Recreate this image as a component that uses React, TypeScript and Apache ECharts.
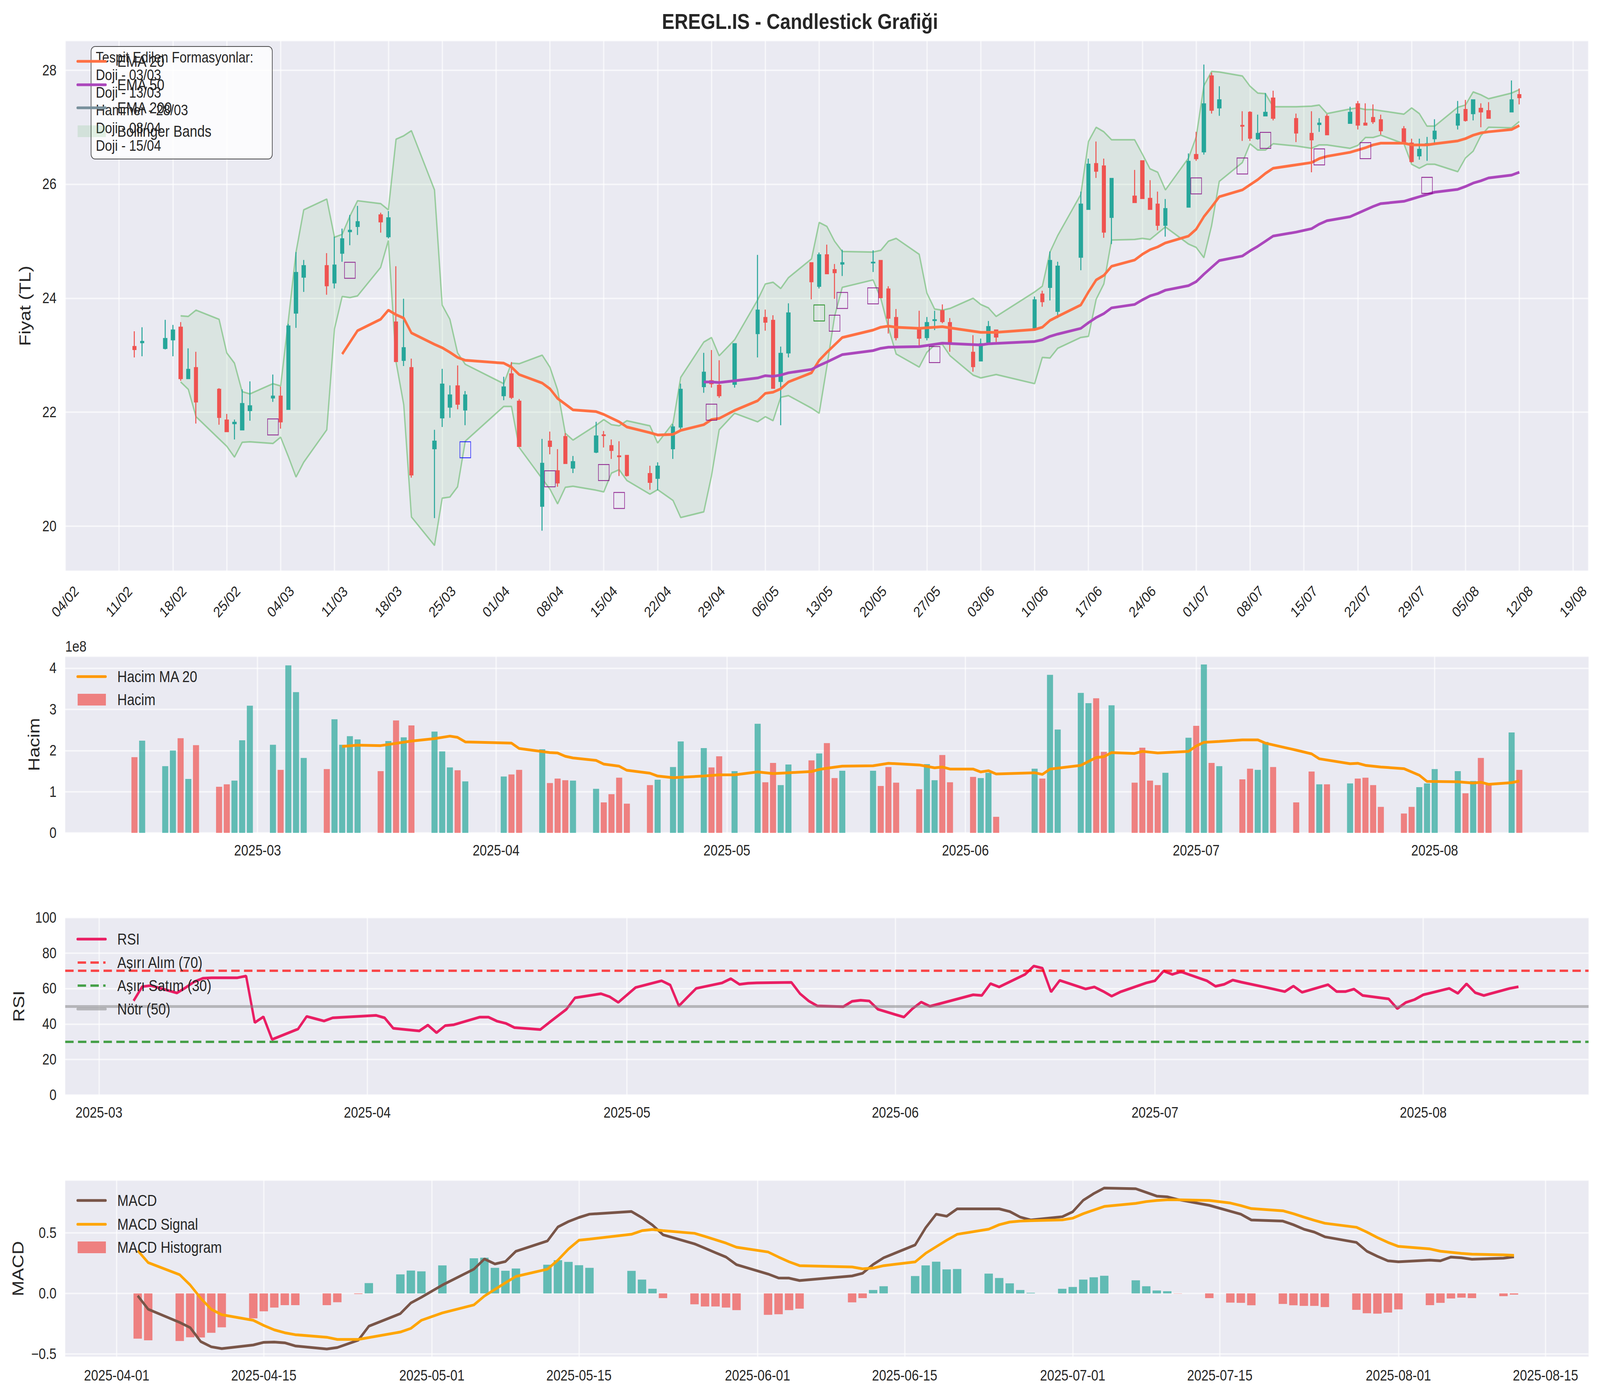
import React, { useEffect, useRef } from 'react';
import * as echarts from 'echarts';

// İşlem günleri
const dates = [
  '2025-02-13', '2025-02-14', '2025-02-17', '2025-02-18', '2025-02-19', '2025-02-20', '2025-02-21',
  '2025-02-24', '2025-02-25', '2025-02-26', '2025-02-27', '2025-02-28',
  '2025-03-03', '2025-03-04', '2025-03-05', '2025-03-06', '2025-03-07', '2025-03-10', '2025-03-11',
  '2025-03-12', '2025-03-13', '2025-03-14', '2025-03-17', '2025-03-18', '2025-03-19', '2025-03-20',
  '2025-03-21', '2025-03-24', '2025-03-25', '2025-03-26', '2025-03-27', '2025-03-28',
  '2025-04-02', '2025-04-03', '2025-04-04', '2025-04-07', '2025-04-08', '2025-04-09', '2025-04-10',
  '2025-04-11', '2025-04-14', '2025-04-15', '2025-04-16', '2025-04-17', '2025-04-18', '2025-04-21',
  '2025-04-22', '2025-04-24', '2025-04-25', '2025-04-28', '2025-04-29', '2025-04-30',
  '2025-05-02', '2025-05-05', '2025-05-06', '2025-05-07', '2025-05-08', '2025-05-09', '2025-05-12',
  '2025-05-13', '2025-05-14', '2025-05-15', '2025-05-16', '2025-05-20', '2025-05-21', '2025-05-22',
  '2025-05-23', '2025-05-26', '2025-05-27', '2025-05-28', '2025-05-29', '2025-05-30',
  '2025-06-02', '2025-06-03', '2025-06-04', '2025-06-05', '2025-06-10', '2025-06-11', '2025-06-12',
  '2025-06-13', '2025-06-16', '2025-06-17', '2025-06-18', '2025-06-19', '2025-06-20', '2025-06-23',
  '2025-06-24', '2025-06-25', '2025-06-26', '2025-06-27', '2025-06-30',
  '2025-07-01', '2025-07-02', '2025-07-03', '2025-07-04', '2025-07-07', '2025-07-08', '2025-07-09',
  '2025-07-10', '2025-07-11', '2025-07-14', '2025-07-16', '2025-07-17', '2025-07-18', '2025-07-21',
  '2025-07-22', '2025-07-23', '2025-07-24', '2025-07-25', '2025-07-28', '2025-07-29', '2025-07-30',
  '2025-07-31', '2025-08-01', '2025-08-04', '2025-08-05', '2025-08-06', '2025-08-07', '2025-08-08',
  '2025-08-11', '2025-08-12',
];

const open = [
  23.15, 23.22, 23.12, 23.27, 23.49, 22.59, 22.78, 22.40, 21.86, 21.80, 21.69, 22.03,
  22.25, 22.28, 22.05, 23.74, 24.37, 24.57, 24.27, 24.79, 25.17, 25.26, 25.46, 25.08, 23.58, 22.91, 22.78, 21.36, 21.90, 22.09, 22.46, 22.04,
  22.29, 22.67, 22.19, 20.35, 21.49, 20.97, 21.57, 21.02, 21.30, 21.60, 21.41, 21.23, 21.24, 20.92, 20.84, 21.36, 21.74, 22.45, 22.55, 22.47,
  22.49, 23.38, 23.66, 23.61, 22.54, 23.04, 24.62, 24.21, 24.76, 24.50, 24.60, 24.62, 24.66, 24.16, 23.66, 23.47, 23.31, 23.61, 23.78, 23.57,
  23.05, 22.90, 23.23, 23.44, 23.46, 24.07, 24.19, 23.77, 24.72, 25.56, 26.36, 26.32, 25.42, 25.79, 26.41, 25.75, 25.65, 25.28, 25.60,
  26.52, 26.57, 27.90, 27.34, 27.03, 27.26, 26.80, 27.20, 27.51, 27.15, 26.89, 27.05, 27.19, 27.07, 27.41, 27.07, 27.17, 27.13, 26.97, 26.72, 26.50, 26.70,
  26.80, 27.04, 27.31, 27.24, 27.33, 27.29, 27.27, 27.57,
];
const close = [
  23.10, 23.24, 23.29, 23.44, 22.59, 22.75, 22.18, 21.91, 21.66, 21.82, 22.15, 22.11,
  22.28, 21.83, 23.51, 24.45, 24.57, 24.22, 24.58, 25.04, 25.19, 25.34, 25.34, 25.41, 22.89, 23.13, 20.90, 21.49, 22.49, 22.30, 22.14, 22.30,
  22.44, 22.26, 21.40, 21.10, 21.40, 20.76, 21.10, 21.13, 21.58, 21.59, 21.33, 21.22, 20.89, 20.77, 21.05, 21.74, 22.40, 22.70, 22.50, 22.29,
  23.20, 23.79, 23.58, 22.42, 23.03, 23.74, 24.29, 24.76, 24.43, 24.45, 24.62, 24.63, 24.01, 23.65, 23.31, 23.30, 23.57, 23.62, 23.59, 23.23,
  22.80, 23.20, 23.50, 23.32, 23.97, 23.94, 24.66, 24.56, 25.65, 26.35, 26.23, 25.16, 26.10, 25.68, 25.75, 25.56, 25.28, 25.57, 26.40,
  26.45, 27.41, 27.30, 27.48, 27.02, 26.81, 26.89, 27.26, 27.16, 26.90, 26.78, 27.07, 26.87, 27.26, 27.04, 27.04, 27.10, 26.94, 26.73, 26.40, 26.61, 26.71,
  26.93, 27.23, 27.12, 27.48, 27.27, 27.16, 27.48, 27.52,
];
const low = [
  22.96, 22.98, 23.10, 22.98, 22.55, 22.59, 21.80, 21.78, 21.66, 21.52, 21.69, 21.85,
  22.18, 21.71, 22.05, 23.48, 24.11, 24.06, 24.17, 24.64, 24.93, 25.11, 25.15, 25.05, 22.89, 22.81, 20.85, 20.14, 21.74, 21.90, 22.05, 21.77,
  22.21, 22.23, 21.40, 19.92, 21.26, 20.69, 21.10, 20.93, 21.28, 21.38, 21.18, 20.88, 20.87, 20.64, 20.63, 21.18, 21.66, 22.34, 22.43, 22.25,
  22.43, 22.96, 23.43, 22.42, 21.77, 22.96, 23.98, 24.17, 24.43, 23.99, 24.39, 24.46, 24.01, 23.38, 23.26, 23.17, 23.26, 23.44, 23.56, 23.06,
  22.71, 22.90, 23.21, 23.23, 23.43, 23.85, 23.96, 23.65, 24.49, 25.56, 26.11, 25.06, 24.95, 25.68, 25.75, 25.56, 25.19, 25.08, 25.60,
  26.41, 26.52, 27.24, 27.20, 26.76, 26.76, 26.78, 27.20, 27.12, 26.74, 26.21, 26.92, 26.86, 27.06, 26.96, 27.03, 27.06, 26.87, 26.72, 26.38, 26.43, 26.41,
  26.73, 26.96, 27.10, 27.12, 27.00, 27.16, 27.27, 27.40,
];
const high = [
  23.42, 23.49, 23.62, 23.53, 23.58, 23.12, 23.06, 22.42, 21.97, 21.87, 22.40, 22.54,
  22.66, 22.45, 23.55, 24.81, 24.67, 24.79, 25.08, 25.22, 25.46, 25.62, 25.50, 25.53, 24.56, 23.99, 22.94, 21.69, 22.76, 22.47, 22.82, 22.37,
  22.62, 22.88, 22.23, 21.53, 21.66, 21.35, 21.63, 21.23, 21.83, 21.67, 21.52, 21.49, 21.25, 21.06, 21.12, 21.79, 22.50, 23.04, 23.09, 22.91,
  23.21, 24.76, 23.80, 23.70, 23.15, 23.91, 24.62, 24.80, 24.94, 24.60, 24.85, 24.84, 24.66, 24.21, 23.81, 23.78, 23.67, 23.78, 23.89, 23.65,
  23.35, 23.29, 23.60, 23.45, 24.03, 24.13, 24.82, 24.64, 25.87, 26.45, 26.75, 26.45, 26.10, 26.25, 26.41, 26.07, 25.87, 25.74, 26.54,
  26.92, 28.10, 27.96, 27.72, 27.28, 27.28, 27.22, 27.60, 27.64, 27.24, 27.28, 27.16, 27.23, 27.36, 27.46, 27.42, 27.40, 27.22, 27.02, 26.80, 26.80, 26.83,
  27.14, 27.46, 27.48, 27.48, 27.42, 27.44, 27.82, 27.68,
];

// Hacim (milyon adet)
const volume = [
  184, 224, 162, 200, 230, 131, 213, 112, 118, 127, 225, 309,
  214, 153, 407, 342, 182, 155, 276, 214, 235, 227, 150, 223, 273, 232, 261, 246, 198, 159, 152, 125,
  137, 142, 153, 203, 121, 132, 128, 127, 107, 74, 94, 134, 71, 116, 129, 160, 222, 206, 159, 186,
  150, 265, 123, 170, 116, 166, 176, 193, 218, 133, 151, 151, 114, 160, 122, 106, 167, 128, 189, 123,
  136, 133, 146, 39, 156, 132, 384, 251, 340, 315, 327, 197, 310, 122, 207, 127, 116, 146, 231,
  260, 409, 170, 162, 130, 156, 153, 221, 160, 74, 149, 118, 118, 120, 132, 134, 116, 63, 47, 63, 111, 120,
  155, 150, 96, 126, 182, 120, 244, 153,
];

const volMaDates = [
  '2025-03-12', '2025-03-14', '2025-03-17', '2025-03-21', '2025-03-24', '2025-03-26', '2025-03-27', '2025-03-28',
  '2025-04-03', '2025-04-04', '2025-04-08', '2025-04-09', '2025-04-10', '2025-04-11', '2025-04-14', '2025-04-15',
  '2025-04-17', '2025-04-18', '2025-04-21', '2025-04-22', '2025-04-24', '2025-04-28', '2025-04-30', '2025-05-02',
  '2025-05-05', '2025-05-07', '2025-05-09', '2025-05-12', '2025-05-13', '2025-05-14', '2025-05-16', '2025-05-20',
  '2025-05-22', '2025-05-26', '2025-05-28', '2025-05-29', '2025-05-30', '2025-06-02', '2025-06-03', '2025-06-04',
  '2025-06-05', '2025-06-10', '2025-06-11', '2025-06-12', '2025-06-16', '2025-06-18', '2025-06-19', '2025-06-20',
  '2025-06-23', '2025-06-24', '2025-06-26', '2025-06-30', '2025-07-01', '2025-07-02', '2025-07-04', '2025-07-07',
  '2025-07-09', '2025-07-10', '2025-07-14', '2025-07-16', '2025-07-17', '2025-07-21', '2025-07-22', '2025-07-23',
  '2025-07-25', '2025-07-28', '2025-07-30', '2025-07-31', '2025-08-04', '2025-08-06', '2025-08-07', '2025-08-08',
  '2025-08-11', '2025-08-12',
];
const volMa = [
  210, 213, 212, 223, 229, 235, 232, 221,
  218, 205, 195, 194, 186, 182, 176, 167,
  162, 152, 145, 138, 134, 138, 141, 141,
  148, 144, 146, 149, 154, 157, 162, 163,
  169, 165, 158, 160, 155, 155, 148, 151,
  143, 146, 142, 155, 164, 183, 185, 195,
  193, 198, 194, 198, 211, 220, 222, 226,
  226, 218, 201, 192, 180, 168, 169, 164,
  160, 156, 140, 125, 124, 121, 123, 118,
  122, 126,
];

const ema20Dates = [
  '2025-03-12', '2025-03-14', '2025-03-17', '2025-03-18', '2025-03-19', '2025-03-20', '2025-03-21', '2025-03-24',
  '2025-03-25', '2025-03-26', '2025-03-27', '2025-03-28', '2025-04-02', '2025-04-03', '2025-04-04', '2025-04-07',
  '2025-04-08', '2025-04-09', '2025-04-11', '2025-04-14', '2025-04-15', '2025-04-17', '2025-04-18', '2025-04-21',
  '2025-04-22', '2025-04-24', '2025-04-25', '2025-04-28', '2025-04-29', '2025-04-30', '2025-05-02', '2025-05-05',
  '2025-05-06', '2025-05-07', '2025-05-08', '2025-05-09', '2025-05-12', '2025-05-13', '2025-05-14', '2025-05-16',
  '2025-05-20', '2025-05-21', '2025-05-22', '2025-05-23', '2025-05-26', '2025-05-29', '2025-05-30', '2025-06-03',
  '2025-06-05', '2025-06-10', '2025-06-11', '2025-06-12', '2025-06-13', '2025-06-16', '2025-06-17', '2025-06-18',
  '2025-06-19', '2025-06-20', '2025-06-23', '2025-06-24', '2025-06-25', '2025-06-26', '2025-06-27', '2025-06-30',
  '2025-07-01', '2025-07-02', '2025-07-03', '2025-07-04', '2025-07-07', '2025-07-08', '2025-07-09', '2025-07-10',
  '2025-07-11', '2025-07-14', '2025-07-16', '2025-07-17', '2025-07-18', '2025-07-21', '2025-07-22', '2025-07-23',
  '2025-07-24', '2025-07-25', '2025-07-28', '2025-07-29', '2025-07-30', '2025-07-31', '2025-08-01', '2025-08-04',
  '2025-08-05', '2025-08-06', '2025-08-07', '2025-08-08', '2025-08-11', '2025-08-12',
];
const ema20 = [
  23.02, 23.43, 23.63, 23.79, 23.71, 23.65, 23.39, 23.19,
  23.13, 23.05, 22.96, 22.91, 22.86, 22.79, 22.66, 22.51,
  22.41, 22.24, 22.04, 22.01, 21.96, 21.83, 21.74, 21.64,
  21.60, 21.61, 21.68, 21.78, 21.87, 21.89, 22.03, 22.20,
  22.33, 22.35, 22.41, 22.53, 22.69, 22.91, 23.05, 23.31,
  23.44, 23.49, 23.51, 23.49, 23.47, 23.50, 23.48, 23.40,
  23.40, 23.45, 23.49, 23.61, 23.68, 23.88, 24.11, 24.32,
  24.40, 24.56, 24.67, 24.77, 24.85, 24.90, 24.97, 25.09,
  25.21, 25.43, 25.60, 25.78, 25.90, 25.99, 26.08, 26.19,
  26.28, 26.34, 26.38, 26.45, 26.49, 26.56, 26.60, 26.64,
  26.69, 26.72, 26.72, 26.69, 26.69, 26.69, 26.71, 26.76,
  26.80, 26.86, 26.90, 26.92, 26.96, 27.03,
];

const ema50Dates = [
  '2025-04-28', '2025-04-29', '2025-04-30', '2025-05-02', '2025-05-05', '2025-05-06', '2025-05-07', '2025-05-08',
  '2025-05-09', '2025-05-12', '2025-05-13', '2025-05-14', '2025-05-16', '2025-05-20', '2025-05-21', '2025-05-22',
  '2025-05-26', '2025-05-29', '2025-06-03', '2025-06-04', '2025-06-10', '2025-06-11', '2025-06-12', '2025-06-13',
  '2025-06-16', '2025-06-17', '2025-06-18', '2025-06-19', '2025-06-20', '2025-06-23', '2025-06-24', '2025-06-25',
  '2025-06-26', '2025-06-27', '2025-06-30', '2025-07-01', '2025-07-02', '2025-07-03', '2025-07-04', '2025-07-07',
  '2025-07-08', '2025-07-09', '2025-07-10', '2025-07-11', '2025-07-14', '2025-07-16', '2025-07-17', '2025-07-18',
  '2025-07-21', '2025-07-22', '2025-07-23', '2025-07-24', '2025-07-25', '2025-07-28', '2025-07-29', '2025-07-30',
  '2025-07-31', '2025-08-01', '2025-08-04', '2025-08-05', '2025-08-06', '2025-08-07', '2025-08-08', '2025-08-11',
  '2025-08-12',
];
const ema50 = [
  22.53, 22.53, 22.52, 22.55, 22.60, 22.64, 22.63, 22.65,
  22.69, 22.75, 22.82, 22.88, 23.01, 23.08, 23.12, 23.14,
  23.15, 23.21, 23.18, 23.20, 23.24, 23.27, 23.33, 23.37,
  23.47, 23.57, 23.66, 23.73, 23.83, 23.89, 23.97, 24.04,
  24.08, 24.14, 24.22, 24.29, 24.42, 24.54, 24.66, 24.74,
  24.83, 24.91, 25.00, 25.09, 25.16, 25.22, 25.30, 25.36,
  25.43, 25.49, 25.55, 25.61, 25.66, 25.70, 25.74, 25.78,
  25.82, 25.86, 25.91, 25.96, 26.02, 26.06, 26.11, 26.16,
  26.21,
];

// Bollinger bantları (son tarihlerle hizalı)
const bbUpper = [
  23.69, 23.68, 23.79, 23.63, 23.04, 22.86, 22.36, 22.32,
  22.50, 22.46, 23.61, 24.81, 25.55, 25.74, 25.07, 25.12, 25.44, 25.71, 25.66, 25.55, 26.79, 26.85, 26.94, 25.90, 23.88, 23.63, 23.04, 22.84,
  22.50, 22.86, 22.85, 23.00, 22.79, 22.39, 21.63, 21.51, 21.77, 21.87, 21.78, 21.76, 21.85, 21.76, 21.46, 21.81, 22.61, 23.23, 23.31, 22.99,
  23.27, 23.97, 24.25, 24.28, 24.17, 24.36, 24.69, 25.33, 25.26, 25.00, 24.82, 24.81, 24.84, 25.00, 25.05, 24.77, 24.09, 23.81, 23.79, 23.82,
  24.00, 23.89, 23.83, 23.68, 24.11, 24.21, 24.81, 25.10, 25.82, 26.75, 27.00, 26.92, 26.78, 26.78, 26.53, 26.27, 26.21, 25.90, 26.46,
  26.83, 27.73, 27.98, 27.97, 27.90, 27.72, 27.60, 27.59, 27.36, 27.36, 27.37, 27.39, 27.24, 27.32, 27.34, 27.31, 27.31, 27.29, 27.23, 27.34, 27.24, 27.02,
  27.02, 27.35, 27.39, 27.62, 27.57, 27.50, 27.60, 27.66,
];
const bbLower = [
  22.53, 22.40, 21.92, 21.53, 21.40, 21.21, 21.47, 21.48,
  21.45, 21.56, 21.22, 20.86, 21.12, 21.69, 23.46, 24.03, 24.01, 24.04, 24.54, 25.01, 22.88, 22.13, 20.16, 19.66, 20.49, 20.51, 20.69, 21.49,
  22.10, 22.10, 21.38, 20.83, 20.65, 20.39, 20.68, 20.70, 20.63, 20.60, 20.93, 20.99, 20.80, 20.56, 20.64, 20.45, 20.15, 20.25, 20.88, 21.69,
  21.98, 21.83, 21.92, 21.85, 22.26, 22.29, 22.07, 21.98, 22.80, 23.68, 24.19, 24.32, 24.00, 23.48, 23.02, 22.79, 23.05, 23.18, 23.19, 22.99,
  22.65, 22.60, 22.63, 22.66, 22.50, 22.96, 22.95, 23.12, 23.31, 23.33, 23.98, 24.25, 25.02, 25.03, 25.05, 25.03, 25.14, 25.25, 24.95,
  24.89, 24.71, 25.27, 26.05, 26.38, 26.71, 26.60, 26.60, 26.71, 26.67, 26.63, 26.69, 26.69, 26.63, 26.68, 26.82, 26.82, 26.86, 26.71, 26.35, 26.28, 26.35,
  26.35, 26.22, 26.46, 26.58, 26.85, 27.00, 26.99, 27.10,
];

const patternDates = [
  '2025-03-03', '2025-03-13', '2025-03-28', '2025-04-08', '2025-04-15', '2025-04-17', '2025-04-29', '2025-05-13', '2025-05-15',
  '2025-05-16', '2025-05-20', '2025-05-28', '2025-07-01', '2025-07-07', '2025-07-10', '2025-07-17', '2025-07-23', '2025-07-31',
];
const patternPrices = [
  21.74, 24.49, 21.34, 20.83, 20.94, 20.45, 22.00, 23.74, 23.56,
  23.96, 24.04, 23.01, 25.97, 26.32, 26.77, 26.48, 26.59, 25.98,
];
const patternTypes = [
  'Doji', 'Doji', 'Hammer', 'Doji', 'Doji', 'Doji', 'Doji', 'Engulfing', 'Doji',
  'Doji', 'Doji', 'Doji', 'Doji', 'Doji', 'Doji', 'Doji', 'Doji', 'Doji',
];
const detectedPatterns = [
  'Tespit Edilen Formasyonlar:',
  'Doji - 03/03',
  'Doji - 13/03',
  'Hammer - 28/03',
  'Doji - 08/04',
  'Doji - 15/04',
];

// RSI (14), 05/03'ten itibaren
const rsi = [
  53.1, 61.1, 61.7, 57.5, 60.5, 63.8, 65.8, 66.1, 66.1, 67.1, 40.8, 44.1, 31.3, 37.2, 44.3, 43.0, 41.7, 43.5,
  44.9, 43.5, 37.6, 36.1, 39.4, 35.1, 39.1, 39.6, 43.9, 43.9, 41.6, 40.4, 38.0, 36.9, 40.8, 48.3, 54.8, 57.1, 55.4, 52.2,
  60.6, 64.4, 62.0, 50.2, 55.2, 60.1, 63.2, 65.6, 62.4, 63.0, 63.2, 63.5, 57.1, 53.0, 50.2, 49.8, 52.8, 53.4, 53.0, 48.3,
  43.9, 48.7, 52.4, 50.0, 56.5, 56.1, 62.8, 60.9, 68.0, 72.7, 71.5, 58.1, 64.6, 59.8, 60.9, 58.5, 55.7, 58.1, 63.2,
  64.4, 69.9, 68.0, 69.5, 64.4, 61.3, 62.4, 64.8, 63.6, 60.5, 58.3, 61.4, 57.9, 62.2, 58.3, 58.3, 59.7, 56.1, 54.2, 48.7, 52.2, 53.8,
  56.5, 60.1, 57.3, 62.7, 57.7, 56.1, 60.1, 61.0,
];
const rsiLevels = { overbought: 70, oversold: 30, neutral: 50 };

// MACD, 03/04'ten itibaren
const macd = [
  -0.019, -0.131, -0.240, -0.283, -0.398, -0.441, -0.456, -0.426, -0.404, -0.402, -0.408, -0.434, -0.459, -0.447, -0.386, -0.271, -0.167, -0.079, -0.032,
  0.069, 0.200, 0.284, 0.243, 0.263, 0.348, 0.433, 0.549, 0.593, 0.627, 0.654, 0.676, 0.625, 0.564, 0.484, 0.409, 0.373, 0.336, 0.300, 0.237,
  0.160, 0.127, 0.126, 0.106, 0.144, 0.166, 0.239, 0.294, 0.400, 0.542, 0.654, 0.637, 0.698, 0.698, 0.698, 0.676, 0.630, 0.606, 0.633,
  0.674, 0.769, 0.824, 0.870, 0.864, 0.834, 0.803, 0.797, 0.775, 0.727, 0.678, 0.654, 0.606, 0.597, 0.567, 0.530, 0.506, 0.467, 0.421, 0.348, 0.306, 0.269,
  0.261, 0.275, 0.269, 0.300, 0.294, 0.282, 0.291, 0.302,
];
const macdSignal = [
  0.354, 0.254, 0.154, 0.069, -0.040, -0.131, -0.176, -0.222, -0.265, -0.301, -0.325, -0.341, -0.362, -0.380, -0.380, -0.365, -0.319, -0.289, -0.222,
  -0.161, -0.095, -0.022, 0.033, 0.087, 0.140, 0.200, 0.275, 0.366, 0.439, 0.448, 0.488, 0.518, 0.528, 0.518, 0.496, 0.470, 0.443, 0.415, 0.381,
  0.342, 0.300, 0.261, 0.229, 0.218, 0.203, 0.209, 0.229, 0.260, 0.331, 0.385, 0.439, 0.488, 0.530, 0.567, 0.589, 0.597, 0.600, 0.607,
  0.621, 0.658, 0.688, 0.718, 0.743, 0.758, 0.767, 0.773, 0.773, 0.767, 0.746, 0.725, 0.700, 0.682, 0.658, 0.630, 0.603, 0.579, 0.546, 0.506, 0.461, 0.421,
  0.388, 0.367, 0.348, 0.339, 0.330, 0.324, 0.318, 0.314,
];
const macdHist = [
  -0.374, -0.387, -0.393, -0.362, -0.364, -0.325, -0.280, -0.206, -0.148, -0.117, -0.097, -0.097, -0.097, -0.073, -0.005, 0.085, 0.157, 0.188, 0.182,
  0.231, 0.290, 0.295, 0.211, 0.187, 0.205, 0.237, 0.274, 0.260, 0.233, 0.211, 0.186, 0.114, 0.038, -0.039, -0.090, -0.108, -0.108, -0.117, -0.138,
  -0.177, -0.172, -0.138, -0.126, -0.074, -0.039, 0.028, 0.059, 0.143, 0.231, 0.262, 0.198, 0.201, 0.163, 0.127, 0.083, 0.028, 0.005, 0.038,
  0.053, 0.114, 0.133, 0.146, 0.108, 0.059, 0.024, 0.018, -0.002, -0.039, -0.076, -0.078, -0.098, -0.087, -0.098, -0.103, -0.103, -0.113, -0.136, -0.164, -0.167, -0.158,
  -0.132, -0.097, -0.078, -0.042, -0.035, -0.039, -0.023, -0.010,
];

const monthTicks = ['2025-03-01', '2025-04-01', '2025-05-01', '2025-06-01', '2025-07-01', '2025-08-01'];
const macdTicks = [
  '2025-04-01', '2025-04-15', '2025-05-01', '2025-05-15', '2025-06-01',
  '2025-06-15', '2025-07-01', '2025-07-15', '2025-08-01', '2025-08-15',
];

const W = 4760;
const H = 3571;
const DAY = 86400000;
const ORIGIN = Date.UTC(2025, 1, 4);
const toDay = (s: string) => (Date.parse(s) - ORIGIN) / DAY;
const pad = (n: number) => String(n).padStart(2, '0');
const dayDate = (d: number) => new Date(ORIGIN + Math.round(d) * DAY);

const FONT = '"Liberation Sans", Arial, sans-serif';
const TXT = '#262626';
const UP = '#26A69A';
const DOWN = '#EF5350';
const UP_A = 'rgba(38,166,154,0.7)';
const DOWN_A = 'rgba(239,83,80,0.7)';
const PATTERN_COLORS: Record<string, string> = { Doji: '#800080', Hammer: '#0000FF', Engulfing: '#008000' };

const App: React.FC = () => {
  const chartRef = useRef<HTMLDivElement>(null);

  // çizimi pencereye yay (pencere 4760x3571'den farklıysa)
  const vw = typeof window !== 'undefined' ? window.innerWidth : W;
  const vh = typeof window !== 'undefined' ? window.innerHeight : H;
  const sx = vw / W;
  const sy = vh / H;

  useEffect(() => {
    if (!chartRef.current) return;
    document.body.style.margin = '0';
    document.documentElement.style.overflow = 'hidden';
    const chart = echarts.init(chartRef.current, undefined, { renderer: 'svg' });

    const xs = dates.map(toDay);
    const tail = (n: number) => xs.slice(xs.length - n);
    const bbX = tail(bbUpper.length);
    const rsiX = tail(rsi.length);
    const macdX = tail(macd.length);

    const splitLine = { show: true, lineStyle: { color: 'rgba(255,255,255,0.6)', width: 4 } };
    const axisLabel = { fontSize: 38, color: TXT, fontFamily: FONT };
    const gridBase = { left: 194, right: 34, show: true, backgroundColor: '#EAEAF2', borderWidth: 0 };
    const monthX = monthTicks.map(toDay);
    const macdXTicks = macdTicks.map(toDay);

    const line = (name: string, data: number[][], color: string, width: number, idx: number, z = 4) => ({
      name, type: 'line', data, xAxisIndex: idx, yAxisIndex: idx, symbol: 'none', z,
      lineStyle: { color, width }, itemStyle: { color },
    });

    // lejant yardımcıları
    const lgLine = (y: number, color: string, width: number, dash?: number[]) => ({
      type: 'line', z: 102, shape: { x1: 231, y1: y, x2: 314, y2: y },
      style: { stroke: color, lineWidth: width, lineDash: dash, lineCap: dash ? 'butt' : 'round' },
    });
    const lgPatch = (y: number, fill: string) => ({
      type: 'rect', z: 102, shape: { x: 231, y: y - 15, width: 84, height: 30 }, style: { fill },
    });
    const txt = (x: number, y: number, text: string, size: number, extra: any = {}) => ({
      type: 'text', z: 103, x, y,
      style: {
        text, fontSize: size, fontFamily: FONT, fill: TXT,
        textVerticalAlign: 'middle', verticalAlign: 'middle', ...extra,
      },
    });

    const option: any = {
      animation: false,
      backgroundColor: '#FFFFFF',
      grid: [
        { ...gridBase, top: 104, height: 1358 },
        { ...gridBase, top: 1680, height: 452 },
        { ...gridBase, top: 2349, height: 454 },
        { ...gridBase, top: 3021, height: 453 },
      ],
      xAxis: [
        {
          type: 'value', gridIndex: 0, min: 0, max: 198, interval: 7,
          axisLine: { show: false }, axisTick: { show: false }, splitLine,
          axisLabel: {
            ...axisLabel, rotate: 45, align: 'center', verticalAlign: 'middle', margin: 78,
            showMaxLabel: false,
            formatter: (v: number) => {
              if (Math.abs(v % 7) > 1e-6) return '';
              const d = dayDate(v);
              return `${pad(d.getUTCDate())}/${pad(d.getUTCMonth() + 1)}`;
            },
          },
        },
        {
          type: 'value', gridIndex: 1, min: 0, max: 198,
          axisLine: { show: false }, axisTick: { show: false, customValues: monthX }, splitLine,
          axisLabel: {
            ...axisLabel, margin: 26, customValues: monthX,
            formatter: (v: number) => { const d = dayDate(v); return `${d.getUTCFullYear()}-${pad(d.getUTCMonth() + 1)}`; },
          },
        },
        {
          type: 'value', gridIndex: 2, min: 21.1, max: 197.1,
          axisLine: { show: false }, axisTick: { show: false, customValues: monthX }, splitLine,
          axisLabel: {
            ...axisLabel, margin: 26, customValues: monthX,
            formatter: (v: number) => { const d = dayDate(v); return `${d.getUTCFullYear()}-${pad(d.getUTCMonth() + 1)}`; },
          },
        },
        {
          type: 'value', gridIndex: 3, min: 51.1, max: 196.1,
          axisLine: { show: false }, axisTick: { show: false, customValues: macdXTicks }, splitLine,
          axisLabel: {
            ...axisLabel, margin: 28, customValues: macdXTicks,
            formatter: (v: number) => {
              const d = dayDate(v);
              return `${d.getUTCFullYear()}-${pad(d.getUTCMonth() + 1)}-${pad(d.getUTCDate())}`;
            },
          },
        },
      ],
      yAxis: [
        {
          type: 'value', gridIndex: 0, min: 19.21, max: 28.52,
          axisLine: { show: false }, axisTick: { show: false }, splitLine,
          axisLabel: { ...axisLabel, margin: 26, formatter: (v: number) => (Number.isInteger(v) ? String(v) : '') },
          name: 'Fiyat (TL)', nameLocation: 'middle', nameRotate: 90, nameGap: 97,
          nameTextStyle: { fontSize: 48, color: TXT, fontFamily: FONT },
        },
        {
          type: 'value', gridIndex: 1, min: 0, max: 429, interval: 100,
          axisLine: { show: false }, axisTick: { show: false }, splitLine,
          axisLabel: { ...axisLabel, margin: 26, formatter: (v: number) => (v % 100 === 0 ? String(v / 100) : '') },
          name: 'Hacim', nameLocation: 'middle', nameRotate: 90, nameGap: 70,
          nameTextStyle: { fontSize: 48, color: TXT, fontFamily: FONT },
        },
        {
          type: 'value', gridIndex: 2, min: 0, max: 100, interval: 20,
          axisLine: { show: false }, axisTick: { show: false }, splitLine,
          axisLabel: { ...axisLabel, margin: 26 },
          name: 'RSI', nameLocation: 'middle', nameRotate: 90, nameGap: 115,
          nameTextStyle: { fontSize: 48, color: TXT, fontFamily: FONT },
        },
        {
          type: 'value', gridIndex: 3, min: -0.526, max: 0.935, splitNumber: 3,
          axisLine: { show: false }, axisTick: { show: false }, splitLine,
          axisLabel: {
            ...axisLabel, margin: 26,
            formatter: (v: number) => {
              if (Math.abs(v * 2 - Math.round(v * 2)) > 1e-6) return '';
              return v < 0 ? `\u2212${Math.abs(v).toFixed(1)}` : v.toFixed(1);
            },
          },
          name: 'MACD', nameLocation: 'middle', nameRotate: 90, nameGap: 118,
          nameTextStyle: { fontSize: 48, color: TXT, fontFamily: FONT },
        },
      ],
      series: [
        // Bollinger dolgusu: üst bant soldan sağa, alt bant sağdan sola
        {
          name: 'Bollinger Bands', type: 'custom', xAxisIndex: 0, yAxisIndex: 0, z: 1, silent: true,
          data: [[bbX[0], bbLower[0]]],
          renderItem: (_params: any, api: any) => {
            const upperPts = bbX.map((x, i) => api.coord([x, bbUpper[i]]));
            const lowerPts = bbX.map((x, i) => api.coord([x, bbLower[i]])).reverse();
            return {
              type: 'polygon',
              shape: { points: upperPts.concat(lowerPts) },
              style: { fill: 'rgba(76,175,80,0.1)' },
            };
          },
        },
        line('BB Upper', bbX.map((x, i) => [x, bbUpper[i]]), 'rgba(76,175,80,0.5)', 4, 0, 2),
        line('BB Lower', bbX.map((x, i) => [x, bbLower[i]]), 'rgba(76,175,80,0.5)', 4, 0, 2),
        {
          name: 'Fiyat', type: 'candlestick', xAxisIndex: 0, yAxisIndex: 0, z: 3, barWidth: 10,
          data: xs.map((x, i) => [x, open[i], close[i], low[i], high[i]]),
          itemStyle: { color: UP, color0: DOWN, borderColor: UP, borderColor0: DOWN, borderWidth: 3 },
        },
        line('EMA 20', ema20Dates.map((d, i) => [toDay(d), ema20[i]]), '#FF7043', 7, 0, 4),
        line('EMA 50', ema50Dates.map((d, i) => [toDay(d), ema50[i]]), '#AB47BC', 7, 0, 4),
        {
          name: 'Formasyonlar', type: 'scatter', xAxisIndex: 0, yAxisIndex: 0, z: 5,
          symbol: 'rect', symbolSize: [32, 41],
          data: patternDates.map((d, i) => ({
            value: [toDay(d), patternPrices[i]],
            itemStyle: { color: 'rgba(0,0,0,0)', borderColor: PATTERN_COLORS[patternTypes[i]], borderWidth: 2 },
          })),
        },
        // Hacim
        {
          name: 'Hacim', type: 'bar', xAxisIndex: 1, yAxisIndex: 1, barWidth: 18, z: 2,
          data: xs.map((x, i) => ({
            value: [x, volume[i]],
            itemStyle: { color: close[i] >= open[i] ? UP_A : DOWN_A },
          })),
        },
        line('Hacim MA 20', volMaDates.map((d, i) => [toDay(d), volMa[i]]), '#FF9800', 7, 1, 4),
        // RSI
        {
          ...line('RSI', rsiX.map((x, i) => [x, rsi[i]]), '#E91E63', 7, 2, 3),
          markLine: {
            silent: true, symbol: ['none', 'none'], label: { show: false }, z: 5,
            data: [
              { yAxis: rsiLevels.overbought, lineStyle: { color: 'rgba(255,0,0,0.7)', width: 6, type: [25, 13] } },
              { yAxis: rsiLevels.oversold, lineStyle: { color: 'rgba(0,128,0,0.7)', width: 6, type: [25, 13] } },
              { yAxis: rsiLevels.neutral, lineStyle: { color: 'rgba(128,128,128,0.5)', width: 7, type: 'solid' } },
            ],
          },
        },
        // MACD
        {
          name: 'MACD Histogram', type: 'bar', xAxisIndex: 3, yAxisIndex: 3, barWidth: 25, z: 2,
          data: macdX.map((x, i) => ({
            value: [x, macdHist[i]],
            itemStyle: { color: macdHist[i] >= 0 ? UP_A : DOWN_A },
          })),
        },
        line('MACD', macdX.map((x, i) => [x, macd[i]]), '#795548', 7, 3, 4),
        line('MACD Signal', macdX.map((x, i) => [x, macdSignal[i]]), '#FFA500', 7, 3, 4),
      ],
      graphic: [
        txt(2380, 55, 'EREGL.IS - Candlestick Grafiği', 56, { fontWeight: 'bold', textAlign: 'center', align: 'center' }),
        txt(194, 1655, '1e8', 38),
        // formasyon kutusu
        {
          type: 'rect', z: 100, shape: { x: 271, y: 119, width: 539, height: 288, r: 12 },
          style: { fill: 'rgba(255,255,255,0.8)', stroke: 'rgba(0,0,0,0.7)', lineWidth: 2 },
        },
        ...detectedPatterns.map((t, i) => ({ ...txt(285, 147 + i * 45.2, t, 38), z: 101 })),
        // fiyat lejantı
        lgLine(157, '#FF7043', 7),
        txt(349, 157, 'EMA 20', 40),
        lgLine(217, '#AB47BC', 7),
        txt(349, 217, 'EMA 50', 40),
        lgLine(276, '#78909C', 7),
        txt(349, 276, 'EMA 200', 40),
        lgPatch(336, 'rgba(76,175,80,0.15)'),
        txt(349, 336, 'Bollinger Bands', 40),
        // hacim lejantı
        lgLine(1732, '#FF9800', 7),
        txt(349, 1732, 'Hacim MA 20', 40),
        lgPatch(1791, DOWN_A),
        txt(349, 1791, 'Hacim', 40),
        // RSI lejantı
        lgLine(2404, '#E91E63', 7),
        txt(349, 2404, 'RSI', 40),
        lgLine(2464, 'rgba(255,0,0,0.7)', 6, [25, 13]),
        txt(349, 2464, 'Aşırı Alım (70)', 40),
        lgLine(2523, 'rgba(0,128,0,0.7)', 6, [25, 13]),
        txt(349, 2523, 'Aşırı Satım (30)', 40),
        lgLine(2583, 'rgba(128,128,128,0.5)', 7),
        txt(349, 2583, 'Nötr (50)', 40),
        // MACD lejantı
        lgLine(3073, '#795548', 7),
        txt(349, 3073, 'MACD', 40),
        lgLine(3134, '#FFA500', 7),
        txt(349, 3134, 'MACD Signal', 40),
        lgPatch(3193, DOWN_A),
        txt(349, 3193, 'MACD Histogram', 40),
      ],
    };

    chart.setOption(option);

    return () => {
      chart.dispose();
    };
  }, []);

  return (
    <div
      style={{
        position: 'absolute', left: 0, top: 0, width: vw, height: vh,
        overflow: 'hidden', background: '#FFFFFF',
      }}
    >
      <div
        ref={chartRef}
        style={{ width: W, height: H, transform: `scale(${sx}, ${sy})`, transformOrigin: '0 0' }}
      />
    </div>
  );
};

export default App;
